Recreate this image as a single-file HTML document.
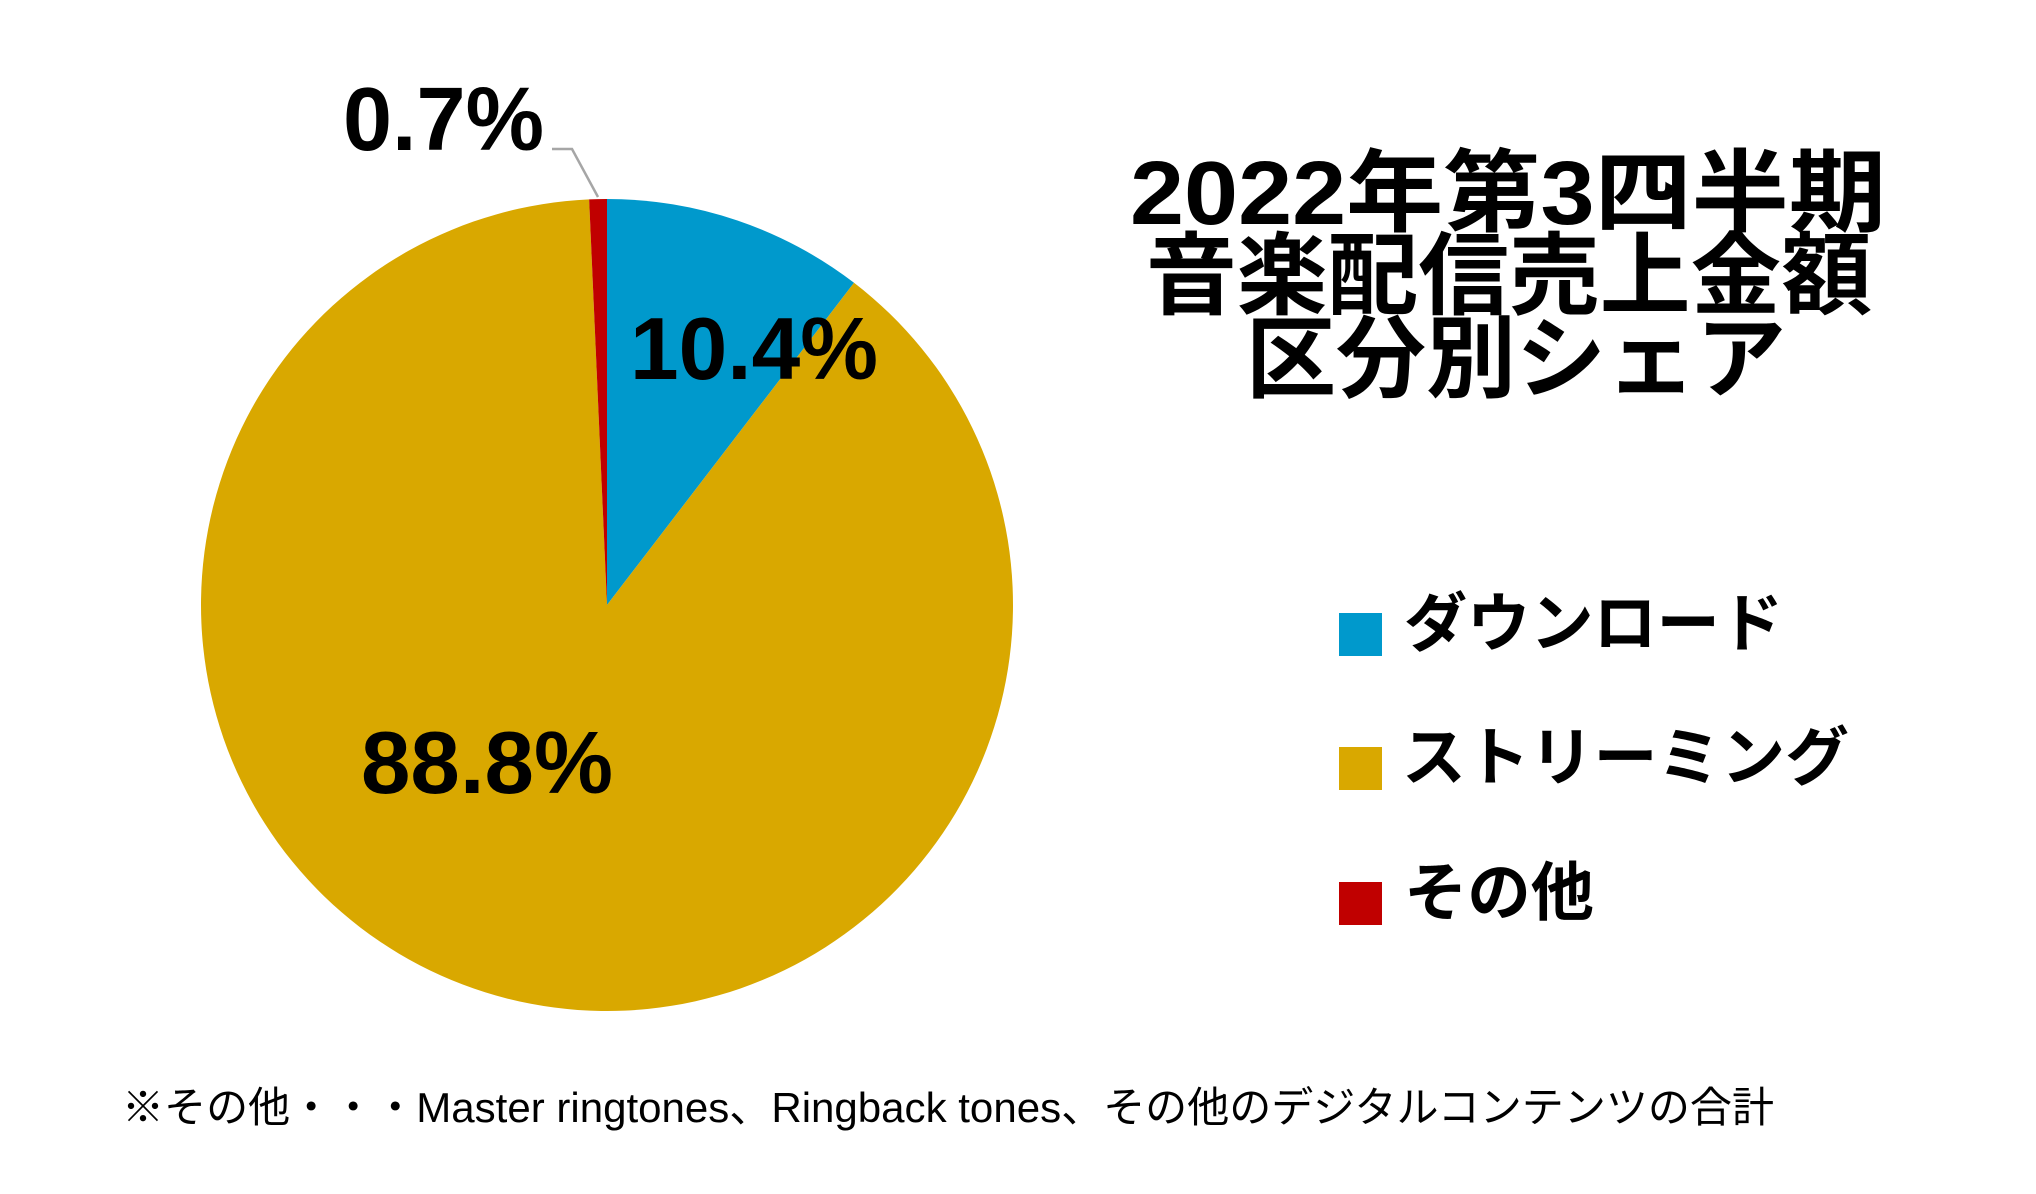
<!DOCTYPE html>
<html><head><meta charset="utf-8"><style>
html,body{margin:0;padding:0;background:#fff;}
svg{display:block;}
text{font-family:"Liberation Sans","Noto Sans CJK JP",sans-serif;}
</style></head><body>
<svg id="chart" width="2036" height="1194" viewBox="0 0 2036 1194">
<g id="slices"></g>
<polyline points="552,149 572,149 598,197" fill="none" stroke="#a6a6a6" stroke-width="2.5"/>
<g font-weight="bold" fill="#000">
<text x="343" y="150" font-size="90" textLength="201" lengthAdjust="spacingAndGlyphs">0.7%</text>
<text x="630" y="379" font-size="88" textLength="248" lengthAdjust="spacingAndGlyphs">10.4%</text>
<text x="361" y="793" font-size="88" textLength="252" lengthAdjust="spacingAndGlyphs">88.8%</text>
</g>
<g font-weight="bold" fill="#000" font-size="90">
<text x="1130" y="224" textLength="756" lengthAdjust="spacingAndGlyphs">2022年第3四半期</text>
<text x="1146" y="307" textLength="726" lengthAdjust="spacingAndGlyphs">音楽配信売上金額</text>
<text x="1246" y="390" textLength="540" lengthAdjust="spacingAndGlyphs">区分別シェア</text>
</g>
<g>
<rect x="1339" y="613" width="43" height="43" fill="#0099cc"/>
<text x="1404" y="646" font-size="64" font-weight="bold" textLength="379" lengthAdjust="spacingAndGlyphs">ダウンロード</text>
<rect x="1339" y="747" width="43" height="43" fill="#d9a800"/>
<text x="1402" y="780" font-size="64" font-weight="bold" textLength="447" lengthAdjust="spacingAndGlyphs">ストリーミング</text>
<rect x="1339" y="882" width="43" height="43" fill="#c00000"/>
<text x="1404" y="915" font-size="64" font-weight="bold" textLength="190" lengthAdjust="spacingAndGlyphs">その他</text>
</g>
<text x="122" y="1122" font-size="42" fill="#000" textLength="1652" lengthAdjust="spacingAndGlyphs">※その他・・・Master ringtones、Ringback tones、その他のデジタルコンテンツの合計</text>
</svg>
<script>
const categories = ["download", "streaming", "other"];
const shares = [10.4, 88.8, 0.7];
const colors = ["#0099cc", "#d9a800", "#c00000"];
const cx = 607, cy = 605, r = 406;
const total = shares.reduce((a, b) => a + b, 0);
const g = document.getElementById('slices');
let start = 0;
function pt(frac) {
  const a = frac * 2 * Math.PI - Math.PI / 2;
  return [cx + r * Math.cos(a), cy + r * Math.sin(a)];
}
shares.forEach((v, i) => {
  const f = v / total;
  const [x1, y1] = pt(start);
  const [x2, y2] = pt(start + f);
  const large = f > 0.5 ? 1 : 0;
  const p = document.createElementNS('http://www.w3.org/2000/svg', 'path');
  p.setAttribute('d', `M${cx},${cy} L${x1},${y1} A${r},${r} 0 ${large} 1 ${x2},${y2} Z`);
  p.setAttribute('fill', colors[i]);
  
  
  g.appendChild(p);
  start += f;
});
</script>
</body></html>
